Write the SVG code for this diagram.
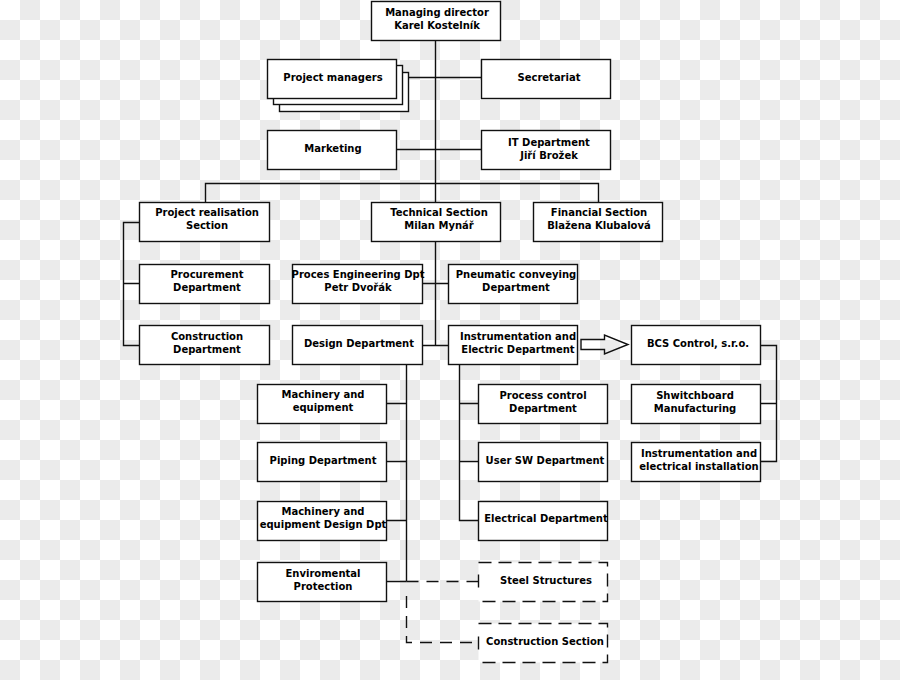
<svg xmlns="http://www.w3.org/2000/svg" width="900" height="680" viewBox="0 0 900 680">
<defs>
<pattern id="chk" x="0" y="0" width="40" height="40" patternUnits="userSpaceOnUse">
<rect width="40" height="40" fill="#ffffff"/>
<rect x="20" y="0" width="20" height="20" fill="#ebebeb"/>
<rect x="0" y="20" width="20" height="20" fill="#ebebeb"/>
</pattern>
<style>
.b{fill:#fff;stroke:#111;stroke-width:1.4}
.d{fill:#fff;stroke:none}
.dl{fill:none;stroke:#111;stroke-width:1.4;stroke-dasharray:13 7}
.c{fill:none;stroke:#111;stroke-width:1.4}
.cd{fill:none;stroke:#111;stroke-width:1.4;stroke-dasharray:12 8}
text{font-family:"DejaVu Sans","Liberation Sans",sans-serif;font-weight:bold;font-size:10px;fill:#000;text-anchor:middle}
</style>
</defs>
<rect width="900" height="680" fill="url(#chk)"/>
<g id="connectors">
<path class="c" d="M435.5 40V345.5"/>
<path class="c" d="M408 77.5H481"/>
<path class="c" d="M396 149.5H481"/>
<path class="c" d="M205.5 202V183.5H598.5V202"/>
<path class="c" d="M139 222.5H123.5V345.5H139M123.5 283.5H139"/>
<path class="c" d="M422 283.5H448M422 345.5H448"/>
<path class="c" d="M760 345.5H776.5V461.5H760M776.5 403.5H760"/>
<path class="c" d="M406.5 364V581.5M386 403.5H406.5M386 461.5H406.5M386 520.5H406.5M386 581.5H406.5"/>
<path class="c" d="M459.5 364V520.5H478M459.5 403.5H478M459.5 461.5H478"/>
<path class="cd" d="M406.5 581.5H478"/>
<path class="cd" d="M406.5 596V642.5H478" stroke-dashoffset="0"/>
<path class="c" d="M581 339.5H604.5V335L628 344.5L604.5 354V349.5H581Z" fill="#fff"/>
</g>
<g id="managing-director"><rect class="b" x="371.5" y="1.5" width="129" height="39"/><text x="437" y="16">Managing director</text><text x="437" y="29">Karel Kostelník</text></g>
<g id="project-managers"><rect class="b" x="279.5" y="72.5" width="129" height="39"/><rect class="b" x="273.5" y="65.5" width="129" height="39"/><rect class="b" x="267.5" y="59.5" width="129" height="39"/><text x="333" y="81">Project managers</text></g>
<g id="secretariat"><rect class="b" x="481.5" y="59.5" width="129" height="39"/><text x="549" y="81">Secretariat</text></g>
<g id="marketing"><rect class="b" x="267.5" y="130.5" width="129" height="39"/><text x="333" y="152">Marketing</text></g>
<g id="it-department"><rect class="b" x="481.5" y="130.5" width="129" height="39"/><text x="549" y="146">IT Department</text><text x="549" y="159">Jiří Brožek</text></g>
<g id="project-realisation"><rect class="b" x="139.5" y="202.5" width="130" height="39"/><text x="207" y="216">Project realisation</text><text x="207" y="229">Section</text></g>
<g id="technical-section"><rect class="b" x="371.5" y="202.5" width="129" height="39"/><text x="439" y="216">Technical Section</text><text x="439" y="229">Milan Mynář</text></g>
<g id="financial-section"><rect class="b" x="533.5" y="202.5" width="129" height="39"/><text x="599" y="216">Financial Section</text><text x="599" y="229">Blažena Klubalová</text></g>
<g id="procurement"><rect class="b" x="139.5" y="264.5" width="130" height="39"/><text x="207" y="278">Procurement</text><text x="207" y="291">Department</text></g>
<g id="construction-dept"><rect class="b" x="139.5" y="325.5" width="130" height="39"/><text x="207" y="340">Construction</text><text x="207" y="353">Department</text></g>
<g id="proces-engineering"><rect class="b" x="292.5" y="264.5" width="130" height="39"/><text x="358" y="278">Proces Engineering Dpt</text><text x="358" y="291">Petr Dvořák</text></g>
<g id="pneumatic"><rect class="b" x="448.5" y="264.5" width="129" height="39"/><text x="516" y="278">Pneumatic conveying</text><text x="516" y="291">Department</text></g>
<g id="design"><rect class="b" x="292.5" y="325.5" width="130" height="39"/><text x="359" y="347">Design Department</text></g>
<g id="instrumentation-electric"><rect class="b" x="448.5" y="325.5" width="129" height="39"/><text x="518" y="340">Instrumentation and</text><text x="518" y="353">Electric Department</text></g>
<g id="bcs-control"><rect class="b" x="631.5" y="325.5" width="129" height="39"/><text x="698" y="347">BCS Control, s.r.o.</text></g>
<g id="switchboard"><rect class="b" x="631.5" y="384.5" width="129" height="39"/><text x="695" y="399">Shwitchboard</text><text x="695" y="412">Manufacturing</text></g>
<g id="instrumentation-installation"><rect class="b" x="631.5" y="442.5" width="129" height="39"/><text x="699" y="457">Instrumentation and</text><text x="699" y="470">electrical installation</text></g>
<g id="machinery"><rect class="b" x="257.5" y="384.5" width="129" height="39"/><text x="323" y="398">Machinery and</text><text x="323" y="411">equipment</text></g>
<g id="piping"><rect class="b" x="257.5" y="442.5" width="129" height="39"/><text x="323" y="464">Piping Department</text></g>
<g id="machinery-design"><rect class="b" x="257.5" y="501.5" width="129" height="39"/><text x="323" y="515">Machinery and</text><text x="323" y="528">equipment Design Dpt</text></g>
<g id="environmental"><rect class="b" x="257.5" y="562.5" width="129" height="39"/><text x="323" y="577">Enviromental</text><text x="323" y="590">Protection</text></g>
<g id="process-control"><rect class="b" x="478.5" y="384.5" width="129" height="39"/><text x="543" y="399">Process control</text><text x="543" y="412">Department</text></g>
<g id="user-sw"><rect class="b" x="478.5" y="442.5" width="129" height="39"/><text x="545" y="464">User SW Department</text></g>
<g id="electrical"><rect class="b" x="478.5" y="501.5" width="129" height="39"/><text x="546" y="522">Electrical Department</text></g>
<g id="steel-structures"><rect class="d" x="478.5" y="562.5" width="129" height="39"/><path class="dl" d="M478.5 562.5H607.5V601.5H478.5"/><path class="c" d="M478.5 574.5V587.5"/><text x="546" y="584">Steel Structures</text></g>
<g id="construction-section"><rect class="d" x="478.5" y="623.5" width="129" height="39"/><path class="dl" d="M478.5 623.5H607.5V662.5H478.5"/><path class="c" d="M478.5 636.5V649.5"/><text x="545" y="645">Construction Section</text></g>
</svg>
